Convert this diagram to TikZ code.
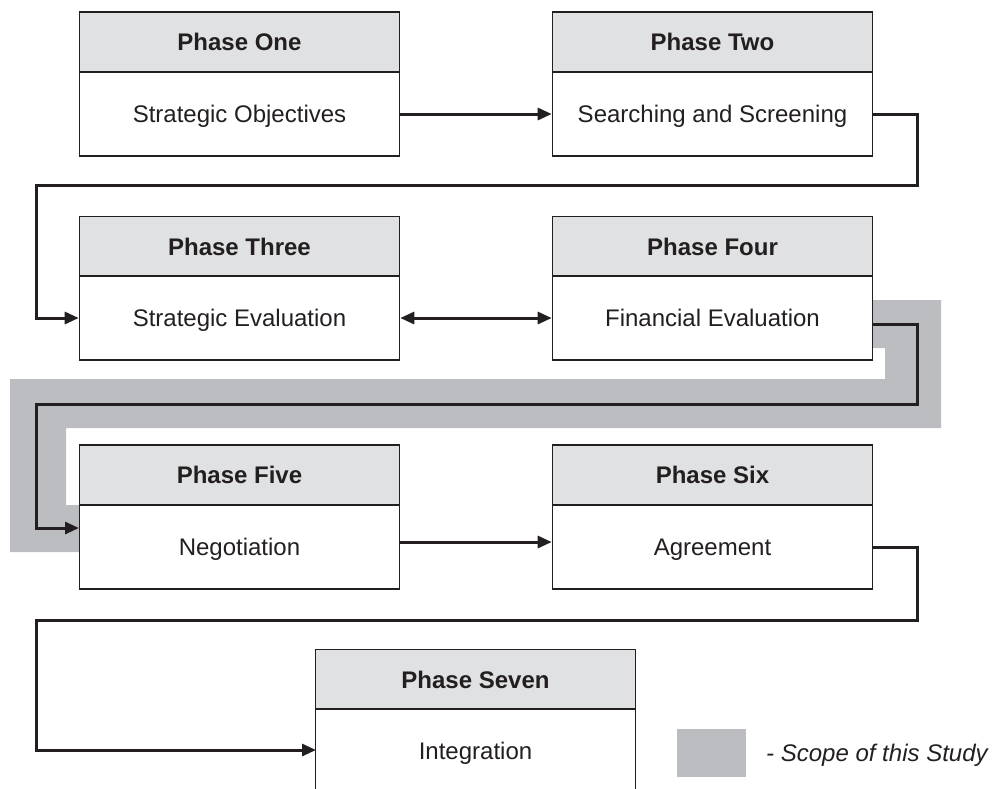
\documentclass[tikz,border=0pt]{standalone}
\usepackage{fontspec}
\setmainfont{Liberation Sans}
\usetikzlibrary{arrows.meta}
\definecolor{ink}{RGB}{35,31,32}
\definecolor{hdrgray}{RGB}{224,225,227}
\definecolor{scopegray}{RGB}{188,189,192}
\tikzset{
  hdr/.style={draw=ink, line width=1.6pt, fill=hdrgray, minimum width=320pt, minimum height=60pt, inner sep=0pt, text height=17pt, text depth=0pt, text=ink, font=\fontsize{24}{28}\selectfont\bfseries},
  bdy/.style={draw=ink, line width=1.6pt, fill=white, minimum width=320pt, minimum height=84pt, inner sep=0pt, text height=17pt, text depth=0pt, text=ink, font=\fontsize{24}{28}\selectfont},
  conn/.style={draw=ink, line width=3pt, -{Triangle[length=14pt,width=12pt]}},
  dconn/.style={draw=ink, line width=3pt, {Triangle[length=14pt,width=12pt]}-{Triangle[length=14pt,width=12pt]}},
}
\begin{document}
\begin{tikzpicture}[x=1pt,y=-1pt]
\useasboundingbox (0,0) rectangle (993,788);
% scope band
\fill[scopegray] (860,300) -- (941,300) -- (941,428) -- (66,428) -- (66,505) -- (85,505) -- (85,552) -- (10,552) -- (10,379) -- (885,379) -- (885,348) -- (860,348) -- cycle;
% boxes
\node[hdr] (h1) at (239.5,42) {Phase One};
\node[bdy] (b1) at (239.5,114) {Strategic Objectives};
\node[hdr] (h2) at (712.5,42) {Phase Two};
\node[bdy] (b2) at (712.5,114) {Searching and Screening};
\node[hdr] (h3) at (239.5,246.5) {Phase Three};
\node[bdy] (b3) at (239.5,318) {Strategic Evaluation};
\node[hdr] (h4) at (712.5,246.5) {Phase Four};
\node[bdy] (b4) at (712.5,318) {Financial Evaluation};
\node[hdr] (h5) at (239.5,475) {Phase Five};
\node[bdy] (b5) at (239.5,547) {Negotiation};
\node[hdr] (h6) at (712.5,475) {Phase Six};
\node[bdy] (b6) at (712.5,547) {Agreement};
\node[hdr] (h7) at (475.5,679.5) {Phase Seven};
\node[bdy, minimum height=100pt] (b7) at (475.5,759) {};
\node[text=ink, inner sep=0pt, text height=17pt, text depth=0pt, font=\fontsize{24}{28}\selectfont] (t7) at (475.5,751) {Integration};
% connector waypoints
\coordinate (r1) at (917,185);
\coordinate (l1) at (36,185);
\coordinate (r2) at (917,404);
\coordinate (l2) at (36,404);
\coordinate (r3) at (917,620);
\coordinate (l3) at (36,620);
\coordinate (e5) at (79,528);
\coordinate (e7) at (316,750);
% connectors
\draw[conn] (b1.east) -- (b2.west);
\draw[conn] (b2.east) -| (r1) -- (l1) |- (b3.west);
\draw[dconn] (b3.east) -- (b4.west);
\draw[conn] ([yshift=-6pt]b4.east) -| (r2) -- (l2) |- (e5);
\draw[conn] ([yshift=5pt]b5.east) -- ([yshift=5pt]b6.west);
\draw[conn] (b6.east) -| (r3) -- (l3) |- (e7);
% legend
\node[fill=scopegray, minimum width=69pt, minimum height=48pt, inner sep=0pt] (leg) at (711.5,753) {};
\node[anchor=west, inner sep=0pt, text=ink, font=\fontsize{24}{28}\selectfont\itshape] (legt) at (766,755) {- Scope of this Study};
\end{tikzpicture}
\end{document}
